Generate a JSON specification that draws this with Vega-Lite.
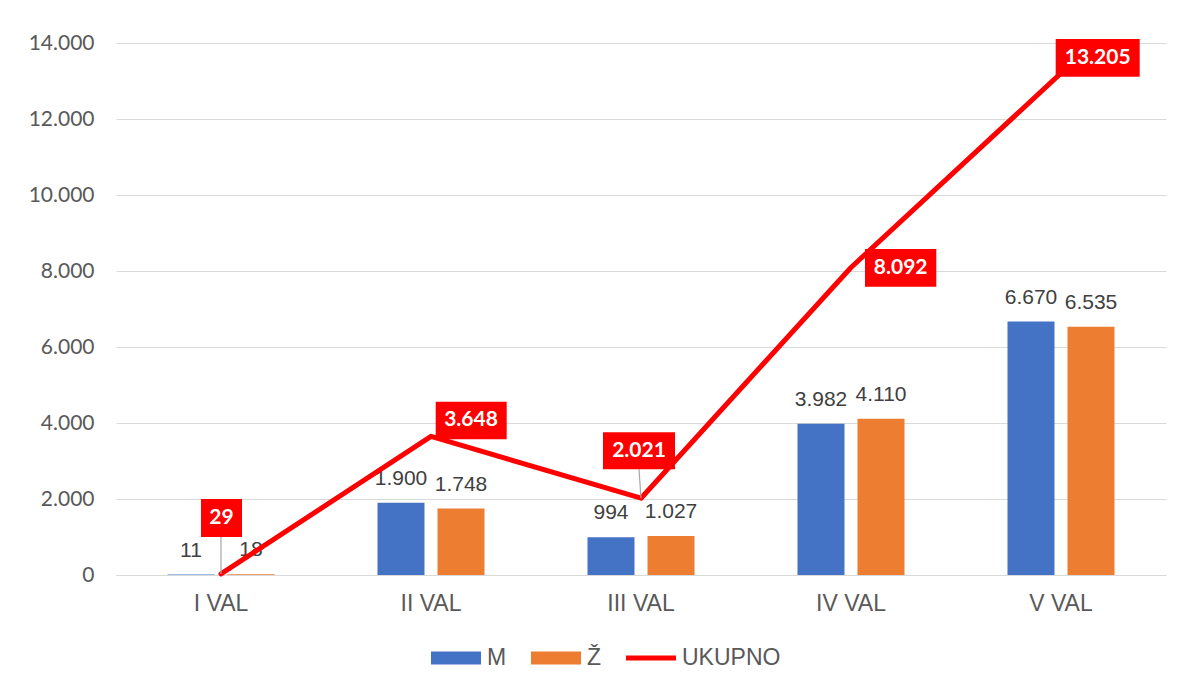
{
  "$schema": "https://vega.github.io/schema/vega-lite/v6.json",
  "width": 1050,
  "height": 532,
  "autosize": "none",
  "padding": {"left": 116, "top": 43, "right": 18, "bottom": 109},
  "background": "white",
  "config": {
    "locale": {"number": {"decimal": ",", "thousands": ".", "grouping": [3], "currency": ["", ""]}},
    "view": {"stroke": null},
    "axis": {"labelColor": "#595959", "gridColor": "#D9D9D9", "domainColor": "#D9D9D9", "ticks": false, "title": null}
  },
  "datasets": {
    "bars": [
      {"val": "I VAL", "g": "M", "v": 11},
      {"val": "I VAL", "g": "Ž", "v": 18},
      {"val": "II VAL", "g": "M", "v": 1900},
      {"val": "II VAL", "g": "Ž", "v": 1748},
      {"val": "III VAL", "g": "M", "v": 994},
      {"val": "III VAL", "g": "Ž", "v": 1027},
      {"val": "IV VAL", "g": "M", "v": 3982},
      {"val": "IV VAL", "g": "Ž", "v": 4110},
      {"val": "V VAL", "g": "M", "v": 6670},
      {"val": "V VAL", "g": "Ž", "v": 6535}
    ],
    "tot": [
      {"val": "I VAL", "t": 29},
      {"val": "II VAL", "t": 3648},
      {"val": "III VAL", "t": 2021},
      {"val": "IV VAL", "t": 8092},
      {"val": "V VAL", "t": 13205}
    ]
  },
  "layer": [
    {
      "data": {"name": "bars"},
      "mark": {"type": "bar"},
      "encoding": {
        "x": {"field": "val", "type": "nominal", "sort": null,
              "scale": {"domain": ["I VAL", "II VAL", "III VAL", "IV VAL", "V VAL"], "paddingInner": 0, "paddingOuter": 0},
              "axis": {"labelAngle": 0, "labelFont": "Liberation Sans", "labelFontSize": 23, "labelPadding": 17, "domain": true, "domainWidth": 1, "grid": false}},
        "xOffset": {"field": "g", "type": "nominal", "sort": null,
                    "scale": {"domain": ["M", "Ž"], "paddingInner": 0.2167, "paddingOuter": 0.858}},
        "y": {"field": "v", "type": "quantitative",
              "scale": {"domain": [0, 14000], "nice": false},
              "axis": {"values": [0, 2000, 4000, 6000, 8000, 10000, 12000, 14000], "format": ",d", "labelFont": "Lato", "labelFontSize": 21, "labelPadding": 22, "domain": false, "grid": true, "gridWidth": 1}},
        "color": {"field": "g", "type": "nominal",
                  "scale": {"domain": ["M", "Ž", "UKUPNO"], "range": ["#4472C4", "#ED7D31", "#FF0000"]},
                  "legend": {
                    "title": null, "orient": "none", "direction": "horizontal",
                    "legendX": 315, "legendY": 590,
                    "labelFont": "Liberation Sans", "labelFontSize": 23, "labelColor": "#595959",
                    "labelOffset": 6, "columnPadding": 24, "symbolSize": 2500,
                    "symbolType": "M-1,-0.26H1V0.26H-1Z",
                    "encode": {"symbols": {"update": {
                      "shape": {"signal": "datum.value === 'UKUPNO' ? 'M-1,-0.1H1V0.1H-1Z' : 'M-1,-0.26H1V0.26H-1Z'"},
                      "fill": {"scale": "color", "field": "value"},
                      "stroke": {"value": "transparent"},
                      "strokeWidth": {"value": 0},
                      "opacity": {"value": 1}
                    }}}
                  }}
      }
    },
    {
      "data": {"name": "bars"},
      "mark": {"type": "text", "baseline": "middle", "dy": -24, "font": "Liberation Sans", "fontSize": 21, "color": "#404040"},
      "encoding": {
        "x": {"field": "val", "type": "nominal", "sort": null},
        "xOffset": {"field": "g", "type": "nominal", "sort": null},
        "y": {"field": "v", "type": "quantitative"},
        "text": {"field": "v", "type": "quantitative", "format": ",d"}
      }
    },
    {
      "data": {"name": "tot"},
      "mark": {"type": "line", "strokeWidth": 5, "strokeCap": "round", "strokeJoin": "round"},
      "encoding": {
        "x": {"field": "val", "type": "nominal", "sort": null},
        "y": {"field": "t", "type": "quantitative"},
        "color": {"datum": "UKUPNO"}
      }
    },
    {
      "data": {"name": "tot"},
      "transform": [{"filter": "datum.val === 'I VAL' || datum.val === 'III VAL'"}],
      "mark": {"type": "point", "filled": false, "stroke": "#A6A6A6", "strokeWidth": 1.2, "size": 4, "opacity": 1},
      "encoding": {
        "x": {"field": "val", "type": "nominal", "sort": null},
        "y": {"field": "t", "type": "quantitative"},
        "shape": {"condition": {"test": "datum.val === 'I VAL'", "value": "M0,0V-37"}, "value": "M0,0L-2,-29"}
      }
    },
    {
      "data": {"name": "tot"},
      "mark": {"type": "point", "filled": true, "fill": "#FF0000", "strokeWidth": 0, "size": 4, "opacity": 1},
      "encoding": {
        "x": {"field": "val", "type": "nominal", "sort": null},
        "y": {"field": "t", "type": "quantitative"},
        "shape": {"condition": [
          {"test": "datum.val === 'I VAL'", "value": "M-20,-75H21V-37H-20Z"},
          {"test": "datum.val === 'II VAL'", "value": "M4.7,-34.7H75.7V2.9H4.7Z"},
          {"test": "datum.val === 'III VAL'", "value": "M-38,-66H34V-29H-38Z"},
          {"test": "datum.val === 'IV VAL'", "value": "M14,-18.5H85.3V19.2H14Z"}
        ], "value": "M-5.3,-34.2H78.7V3.5H-5.3Z"}
      }
    },
    {
      "data": {"name": "tot"},
      "transform": [{"filter": "datum.val === 'I VAL'"}],
      "mark": {"type": "text", "baseline": "middle", "align": "center", "dx": 0.5, "dy": -56, "font": "Lato", "fontWeight": "bold", "fontSize": 21, "color": "white"},
      "encoding": {
        "x": {"field": "val", "type": "nominal", "sort": null},
        "y": {"field": "t", "type": "quantitative"},
        "text": {"field": "t", "type": "quantitative", "format": ",d"}
      }
    },
    {
      "data": {"name": "tot"},
      "transform": [{"filter": "datum.val === 'II VAL'"}],
      "mark": {"type": "text", "baseline": "middle", "align": "center", "dx": 40, "dy": -16, "font": "Lato", "fontWeight": "bold", "fontSize": 21, "color": "white"},
      "encoding": {
        "x": {"field": "val", "type": "nominal", "sort": null},
        "y": {"field": "t", "type": "quantitative"},
        "text": {"field": "t", "type": "quantitative", "format": ",d"}
      }
    },
    {
      "data": {"name": "tot"},
      "transform": [{"filter": "datum.val === 'III VAL'"}],
      "mark": {"type": "text", "baseline": "middle", "align": "center", "dx": -2, "dy": -47.5, "font": "Lato", "fontWeight": "bold", "fontSize": 21, "color": "white"},
      "encoding": {
        "x": {"field": "val", "type": "nominal", "sort": null},
        "y": {"field": "t", "type": "quantitative"},
        "text": {"field": "t", "type": "quantitative", "format": ",d"}
      }
    },
    {
      "data": {"name": "tot"},
      "transform": [{"filter": "datum.val === 'IV VAL'"}],
      "mark": {"type": "text", "baseline": "middle", "align": "center", "dx": 49.7, "dy": 0.4, "font": "Lato", "fontWeight": "bold", "fontSize": 21, "color": "white"},
      "encoding": {
        "x": {"field": "val", "type": "nominal", "sort": null},
        "y": {"field": "t", "type": "quantitative"},
        "text": {"field": "t", "type": "quantitative", "format": ",d"}
      }
    },
    {
      "data": {"name": "tot"},
      "transform": [{"filter": "datum.val === 'V VAL'"}],
      "mark": {"type": "text", "baseline": "middle", "align": "center", "dx": 36.7, "dy": -15.4, "font": "Lato", "fontWeight": "bold", "fontSize": 21, "color": "white"},
      "encoding": {
        "x": {"field": "val", "type": "nominal", "sort": null},
        "y": {"field": "t", "type": "quantitative"},
        "text": {"field": "t", "type": "quantitative", "format": ",d"}
      }
    }
  ]
}
